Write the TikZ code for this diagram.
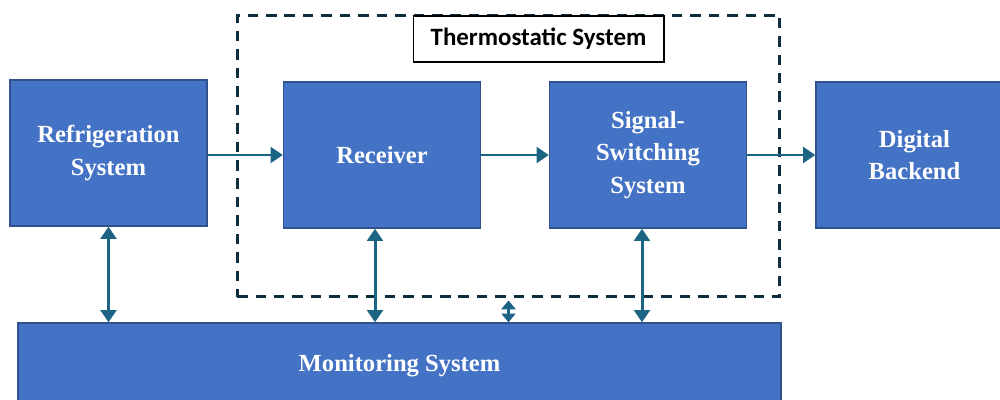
\documentclass[tikz,border=0pt]{standalone}
\usepackage{fontspec}
\setmainfont{Liberation Serif}
\newfontfamily\labelfont{Carlito}
\usepackage{xcolor}
\usetikzlibrary{calc, arrows.meta}

\definecolor{boxblue}{HTML}{4472C4}
\definecolor{boxedge}{HTML}{2F528F}
\definecolor{linkteal}{HTML}{1B6483}
\definecolor{dashnavy}{HTML}{0F2E3F}

\begin{document}
\begin{tikzpicture}[x=0.02cm, y=-0.02cm,
		block/.style={draw=boxedge, line width=0.8pt, fill=boxblue, text=white,
			font=\fontsize{14}{18.5}\selectfont\bfseries, align=center,
			minimum width=3.94cm, minimum height=2.92cm, inner sep=0pt},
		link/.style={draw=linkteal, line width=1.7pt, -{Triangle[width=9pt, length=7pt]}},
		dlink/.style={link, {Triangle[width=9pt, length=7pt]}-{Triangle[width=9pt, length=7pt]}},
		shortlink/.style={draw=linkteal, line width=1.7pt, {Triangle[width=8pt, length=5pt]}-{Triangle[width=8pt, length=5pt]}},
		dashbox/.style={draw=dashnavy, line width=1.7pt, dash pattern=on 6pt off 4.5pt,
			minimum width=10.86cm, minimum height=5.64cm, inner sep=0pt}]
		\useasboundingbox (0,0) rectangle (1000,399);
		\clip (0,0) rectangle (1000,399);

		\begin{scope}
			\node [dashbox] (thermo) at (508.5,156) {};
			\node [draw, fill=white, line width=0.6pt, minimum width=5.02cm, minimum height=0.92cm,
				font=\labelfont\fontsize{14.2}{16}\selectfont\bfseries] (thermolabel) at (538.5,39) {Thermostatic System};
		\end{scope}

		\begin{scope}
			\node [block] (refrig) at (108.5,153) {Refrigeration\\System};
			\node [block] (receiver) at (382,155) {Receiver};
			\node [block] (switching) at (648,155) {Signal-\\Switching\\System};
			\node [block] (backend) at (914.5,155) {Digital\\Backend};
			\node [block, minimum width=15.26cm, minimum height=1.72cm] (monitor) at (399.5,366) {Monitoring System};
		\end{scope}

		\begin{scope}
			\draw [link] (refrig.east |- receiver.west) -- (receiver.west);
			\draw [link] (receiver.east) -- (switching.west);
			\draw [link] (switching.east) -- (backend.west);
		\end{scope}

		\begin{scope}
			\draw [dlink] (refrig.south) -- (refrig.south |- monitor.north);
			\draw [dlink] ([xshift=-0.14cm]receiver.south) -- ([xshift=-0.14cm]receiver.south |- monitor.north);
			\draw [dlink] ([xshift=-0.12cm]switching.south) -- ([xshift=-0.12cm]switching.south |- monitor.north);
			\draw [shortlink] ([yshift=-0.04cm]thermo.south) -- (thermo.south |- monitor.north);
		\end{scope}
	\end{tikzpicture}
\end{document}
